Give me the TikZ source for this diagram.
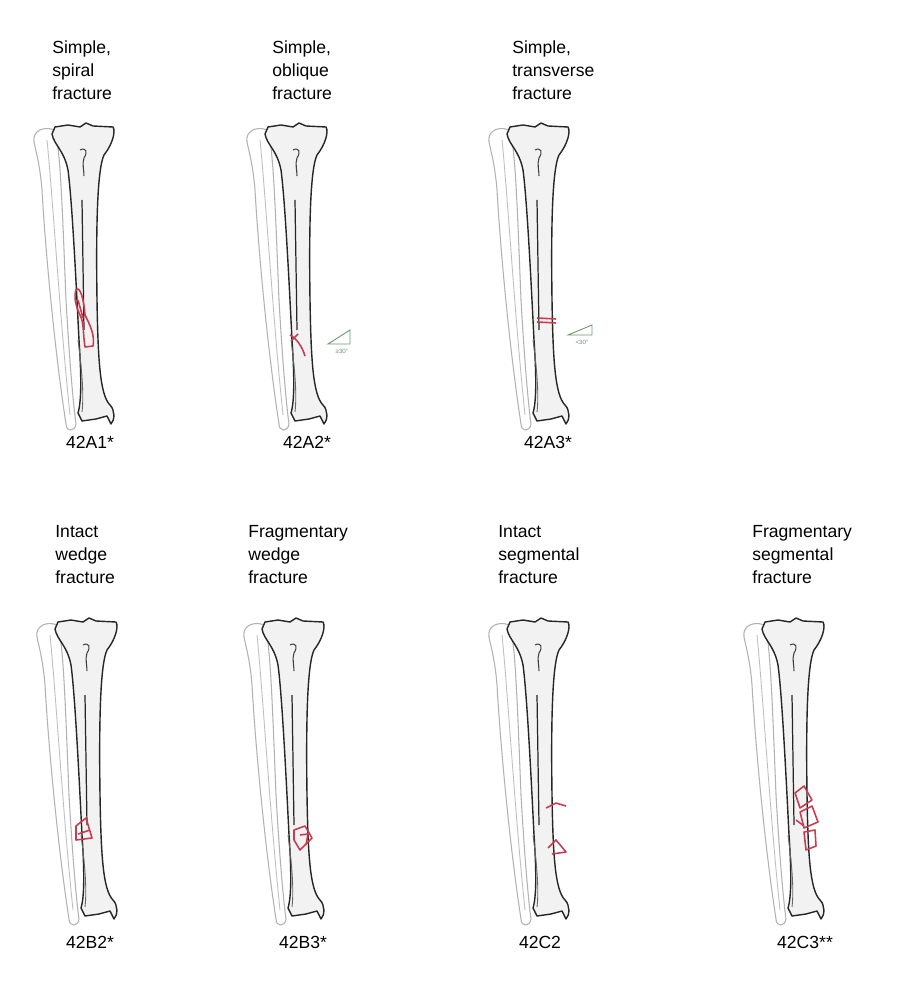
\documentclass[tikz,border=0pt]{standalone}
\usepackage{fontspec}
\setmainfont{Liberation Sans}
\usetikzlibrary{positioning}
\definecolor{fracred}{RGB}{200,60,80}
\definecolor{bonefill}{RGB}{242,242,242}
\definecolor{anglegreen}{RGB}{110,150,110}
\tikzset{
  tibia/.style={draw=black!85, fill=bonefill, line width=0.8pt, line join=round},
  fibula/.style={draw=black!30, fill=white, line width=0.6pt},
  frac/.style={draw=fracred, line width=0.9pt, line join=round},
  title/.style={anchor=north west, align=left, font=\fontsize{10}{13.2}\selectfont, inner sep=0pt},
  code/.style={font=\fontsize{10}{12}\selectfont, inner sep=0pt},
  angle/.style={draw=anglegreen, line width=0.5pt},
}
\newcommand{\drawbone}{%
  % fibula
  \draw[fibula] (34,142) .. controls (32,130) and (45,126) .. (54,130)
    .. controls (60,140) and (62,200) .. (66,300)
    .. controls (70,370) and (74,410) .. (76,424)
    .. controls (75,432) and (66,432) .. (66,424)
    .. controls (56,360) and (46,260) .. (42,190)
    .. controls (40,165) and (36,152) .. (34,142) -- cycle;
  \draw[draw=black!25, line width=0.5pt] (47,140) .. controls (53,200) and (60,320) .. (70,415);
  % tibia
  \draw[tibia] (52,134) -- (55,127) -- (68,125) -- (80,127) -- (86,123) -- (93,126) -- (113,127)
    .. controls (116,132) and (112,145) .. (104,155)
    .. controls (97,170) and (96,230) .. (97,300)
    .. controls (98,360) and (100,395) .. (110,405)
    .. controls (115,410) and (115,420) .. (111,424)
    -- (107,416) -- (96,419) -- (82,421) -- (78,413)
    .. controls (82,400) and (81,370) .. (79,340)
    .. controls (76,280) and (72,200) .. (68,170)
    .. controls (64,150) and (54,145) .. (52,134) -- cycle;
  \draw[black!85, line width=0.7pt] (82,200) -- (84,330);
  \draw[black!75, line width=0.6pt] (80,150) .. controls (86,147) and (88,152) .. (84,158)
    .. controls (82,164) and (84,170) .. (84,176);
  \draw[black!60, line width=0.5pt] (78,340) .. controls (82,370) and (84,395) .. (82,412);
}
\begin{document}
\begin{tikzpicture}[x=0.02cm, y=-0.02cm]
\useasboundingbox (0,0) rectangle (910,982);
% bones
\foreach \dx/\dy [count=\i] in {0/0, 213/0, 455/0, 3/495, 210/495, 455/495, 710/495} {
  \begin{scope}[shift={(\dx,\dy)}]
    \drawbone
  \end{scope}
}
\node[title] (tA1) at (52,40) {Simple,\\spiral\\fracture};
\node[title] (tA2) at (272,40) {Simple,\\oblique\\fracture};
\node[title] (tA3) at (512,40) {Simple,\\transverse\\fracture};
\node[title] (tB2) at (55,525) {Intact\\wedge\\fracture};
\node[title] (tB3) at (248,525) {Fragmentary\\wedge\\fracture};
\node[title] (tC2) at (498,525) {Intact\\segmental\\fracture};
\node[title] (tC3) at (752,525) {Fragmentary\\segmental\\fracture};
\node[code] (cA1) at (90,442) {42A1*};
\node[code] (cA2) at (307,442) {42A2*};
\node[code] (cA3) at (548,442) {42A3*};
\node[code] (cB2) at (90,942) {42B2*};
\node[code] (cB3) at (303,942) {42B3*};
\node[code] (cC2) at (540,942) {42C2};
\node[code] (cC3) at (805,942) {42C3**};
% fractures
\draw[frac] (76,290) .. controls (80,285) and (84,300) .. (85,315)
  .. controls (90,325) and (95,335) .. (93,346) -- (85,347)
  .. controls (83,335) and (84,322) .. (80,315) .. controls (75,305) and (74,295) .. (76,290) -- cycle;
\draw[frac] (78,300) -- (83,318);
\draw[frac] (290,335) .. controls (296,338) and (302,346) .. (305,356);
\draw[frac] (292,340) -- (298,334);
\draw[frac] (537,318) -- (556,319);
\draw[frac] (537,322) -- (556,323);
\draw[angle] (328,344) -- (350,344) -- (350,330) -- cycle;
\node[font=\fontsize{3.5}{4}\selectfont, text=anglegreen, inner sep=0pt] (aA2) at (342,351) {≥30°};
\draw[angle] (568,335) -- (592,335) -- (592,325) -- cycle;
\node[font=\fontsize{3.5}{4}\selectfont, text=anglegreen, inner sep=0pt] (aA3) at (582,342) {<30°};
\draw[frac] (76,826) -- (86,818) -- (92,838) -- (76,840) -- cycle;
\draw[frac] (78,834) -- (90,830);
\draw[frac] (294,830) -- (305,826) -- (312,838) -- (300,850) -- (294,840) -- cycle;
\draw[frac] (300,835) -- (308,834) -- (306,845);
\draw[frac] (546,808) -- (556,803) -- (566,806);
\draw[frac] (548,848) -- (556,840) -- (566,852) -- (552,854);
\draw[frac] (795,793) -- (804,786) -- (812,800) -- (800,808) -- cycle;
\draw[frac] (800,812) -- (812,806) -- (818,822) -- (804,828) -- cycle;
\draw[frac] (804,832) -- (815,830) -- (816,846) -- (806,850) -- cycle;
\draw[frac] (796,820) -- (804,826);
\end{tikzpicture}
\end{document}
